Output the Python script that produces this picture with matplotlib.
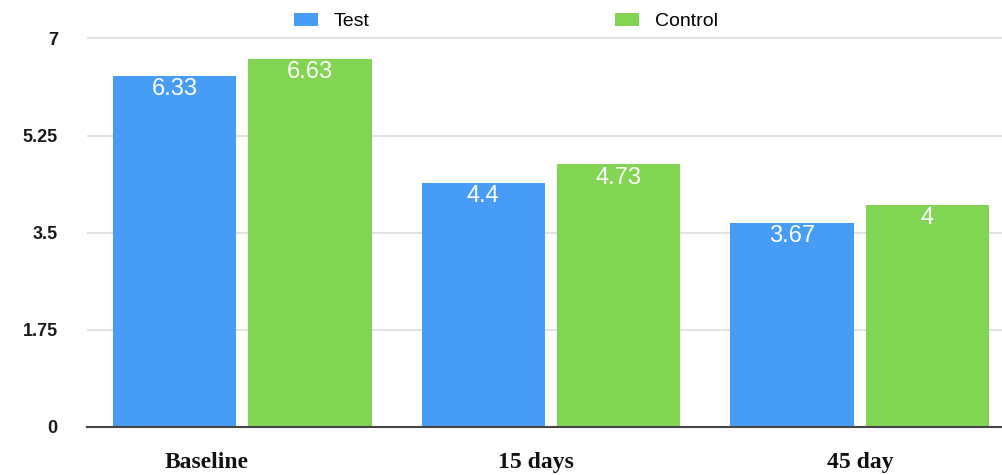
import numpy as np
import matplotlib.pyplot as plt

groups = ['Baseline', '15 days', '45 day']
test = [6.33, 4.4, 3.67]
control = [6.63, 4.73, 4.0]
yticks = [0, 1.75, 3.5, 5.25, 7]
ytick_labels = ['0', '1.75', '3.5', '5.25', '7']

blue = '#479df6'
green = '#82d553'

fig = plt.figure(figsize=(10.03, 4.75), dpi=100)
ax = fig.add_axes([0.0867, 0.1017, 0.9133, 0.8407])

x = np.arange(len(groups))
w = 0.40
off = 0.2195
b1 = ax.bar(x - off, test, w, color=blue, label='Test', zorder=2)
b2 = ax.bar(x + off, control, w, color=green, label='Control', zorder=2)

# values written inside the top of each bar
for bars, vals in [(b1, test), (b2, control)]:
    for r, v in zip(bars, vals):
        ax.annotate('{:g}'.format(v), (r.get_x() + r.get_width() / 2, v),
                    xytext=(0, -9.5), textcoords='offset points',
                    ha='center', va='center', color='white',
                    fontsize=17, family='Liberation Sans', zorder=3)

ax.set_xlim(-0.504, 2.465)
ax.set_ylim(0, 7.2)
ax.set_yticks(yticks)
ax.set_yticklabels(ytick_labels, family='Liberation Sans', fontsize=13,
                   fontweight='bold', color='#1a1a1a')
ax.yaxis.grid(True, color='#dddddd', linewidth=1.2, zorder=0)
ax.set_axisbelow(True)

# category labels sit slightly left of their groups
ax.set_xticks([-0.115, 0.951, 2.002])
ax.set_xticklabels(groups, family='Liberation Serif', fontweight='bold',
                   fontsize=17, color='#111111')
ax.tick_params(axis='x', length=0, pad=18)
ax.tick_params(axis='y', length=0, pad=21)

for s in ['top', 'right', 'left']:
    ax.spines[s].set_visible(False)
ax.spines['bottom'].set_color('#444444')
ax.spines['bottom'].set_linewidth(1.5)
ax.spines['bottom'].set_zorder(4)

fig.legend(handles=[b1, b2], labels=['Test', 'Control'], ncol=2,
           loc='center left', bbox_to_anchor=(0.293, 0.955), frameon=False,
           prop={'family': 'Liberation Sans', 'size': 14},
           handlelength=1.24, handleheight=0.67, handletextpad=0.82,
           columnspacing=12.6, borderpad=0, borderaxespad=0)

fig.savefig('out.png', dpi=100)
